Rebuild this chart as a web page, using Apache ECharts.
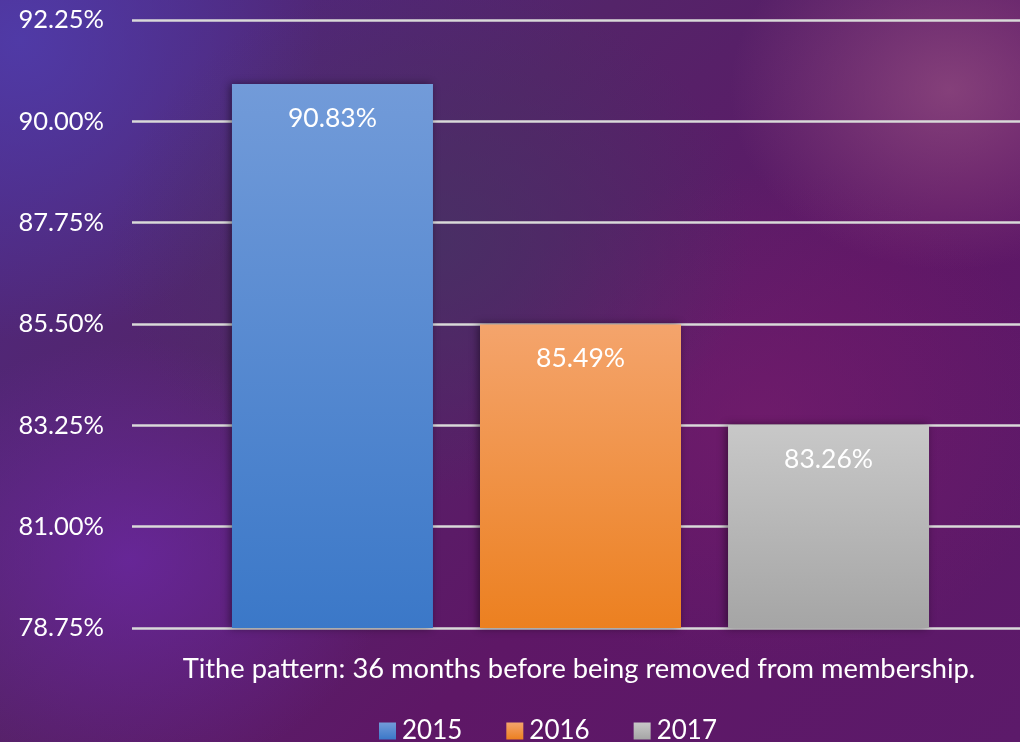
<!DOCTYPE html>
<html>
<head>
<meta charset="utf-8">
<script src="https://cdn.jsdelivr.net/npm/echarts@6/dist/echarts.min.js"></script>
<style>
html,body{margin:0;padding:0;width:1020px;height:742px;overflow:hidden;position:relative;}
#bg{position:absolute;left:0;top:0;width:1020px;height:742px;
background:
radial-gradient(ellipse 220px 180px at 950px 90px, rgba(150,80,130,0.7), rgba(150,80,130,0) 100%),
radial-gradient(ellipse 260px 220px at 130px 560px, rgba(110,40,170,0.7), rgba(110,40,170,0) 100%),
radial-gradient(ellipse 320px 260px at 430px 240px, rgba(70,50,100,0.8), rgba(70,50,100,0) 100%),
radial-gradient(ellipse 300px 300px at 20px 40px, rgba(80,60,170,0.9), rgba(80,60,170,0) 100%),
radial-gradient(ellipse 300px 250px at 760px 420px, rgba(120,30,110,0.6), rgba(120,30,110,0) 100%),
linear-gradient(135deg, #4d2a86 0%, #542469 35%, #5e1766 65%, #5c1a6a 100%);}
#main{position:absolute;left:0;top:0;width:1029px;height:742px;}
</style>
</head>
<body>
<div id="bg"></div>
<div id="main"></div>
<script>
const categories = ['36 months'];
const seriesNames = ['2015', '2016', '2017'];
const values2015 = [90.83];
const values2016 = [85.49];
const values2017 = [83.26];
const yTicks = [78.75, 81.00, 83.25, 85.50, 87.75, 90.00, 92.25];
const caption = 'Tithe pattern: 36 months before being removed from membership.';

const FONT = 'Lato';
function grad(top, bottom) {
  return new echarts.graphic.LinearGradient(0, 0, 0, 1, [
    {offset: 0, color: top}, {offset: 1, color: bottom}
  ]);
}
const colors = [
  grad('#729bd9', '#3b78c8'),
  grad('#f4a46c', '#ec8020'),
  grad('#c8c8c8', '#a5a5a5')
];
const allValues = [values2015, values2016, values2017];

const chart = echarts.init(document.getElementById('main'), null, {renderer: 'canvas'});
chart.setOption({
  backgroundColor: 'transparent',
  animation: false,
  textStyle: {fontFamily: FONT},
  grid: {left: 132, right: 0, top: 20, bottom: 114, containLabel: false},
  legend: {
    data: seriesNames,
    left: 374, top: 713,
    itemWidth: 17, itemHeight: 17, itemGap: 44,
    icon: 'rect',
    textStyle: {color: '#ffffff', fontSize: 26, fontFamily: FONT, padding: [0, 0, 0, 1]}
  },
  xAxis: {
    type: 'category', data: categories,
    axisLine: {show: false}, axisTick: {show: false}, axisLabel: {show: false}
  },
  yAxis: {
    type: 'value',
    min: yTicks[0], max: yTicks[yTicks.length - 1], interval: 2.25,
    axisLine: {show: false}, axisTick: {show: false},
    axisLabel: {
      color: '#ffffff', fontSize: 25.5, fontFamily: FONT, margin: 28,
      formatter: v => v.toFixed(2) + '%'
    },
    splitLine: {lineStyle: {color: '#d9d9d9', width: 2.5}}
  },
  graphic: [{
    type: 'text', x: 579, y: 669,
    style: {text: caption, fill: '#ffffff', font: '27.3px ' + FONT, textAlign: 'center', textVerticalAlign: 'middle'}
  }],
  series: seriesNames.map((name, i) => ({
    name: name, type: 'bar', data: allValues[i],
    barWidth: 201, barGap: '23.4%',
    itemStyle: {color: colors[i], shadowBlur: 8, shadowColor: 'rgba(0,0,0,0.45)', shadowOffsetX: -2, shadowOffsetY: 0},
    label: {
      show: true, position: 'insideTop', distance: 21,
      color: '#ffffff', fontSize: 26.5, fontFamily: FONT,
      formatter: p => p.value.toFixed(2) + '%'
    }
  }))
});
</script>
</body>
</html>
